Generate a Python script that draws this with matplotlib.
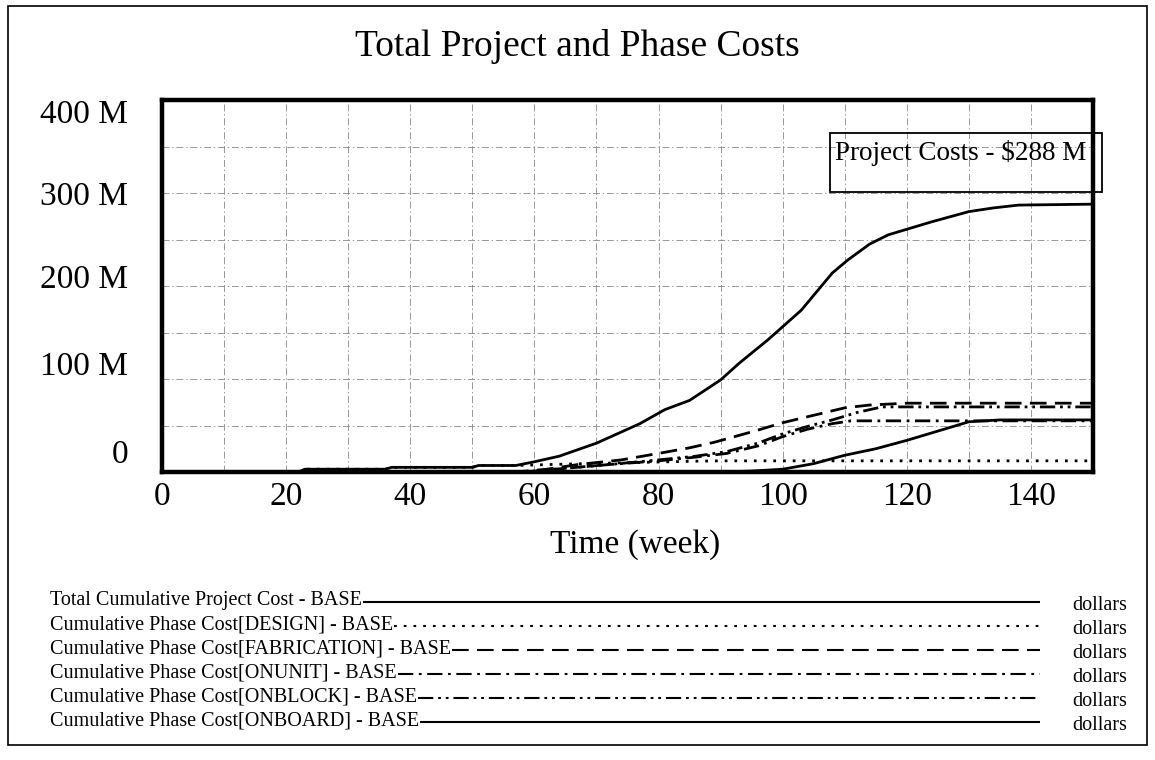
import matplotlib
matplotlib.use("Agg")
import matplotlib.pyplot as plt
from matplotlib.patches import Rectangle
from matplotlib.lines import Line2D

plt.rcParams['font.family'] = ['Liberation Serif', 'DejaVu Serif']
plt.rcParams['lines.scale_dashes'] = False

# ---------------- data (values in millions of dollars) ----------------
title = "Total Project and Phase Costs"
x_label = "Time (week)"
x_ticks = [0, 20, 40, 60, 80, 100, 120, 140]
y_tick_labels = ["400 M", "300 M", "200 M", "100 M", "0"]

weeks_total = [0, 22, 23, 36, 37, 50, 51, 57, 60, 64, 67, 70, 74, 77, 81, 85, 90, 93,
               97.6, 103, 108, 110.5, 114, 117, 124, 130, 134, 138, 150]
total_cost = [0, 0, 3, 3, 5, 5, 7, 7, 11, 17, 24, 31, 43, 52, 67, 77, 99, 117,
              142, 174, 214, 228, 245, 255, 269, 280, 284, 287, 288]

weeks_design = [0, 22, 23, 36, 37, 50, 51, 57, 65, 75, 85, 90, 150]
design_cost = [0, 0, 3, 3, 5, 5, 7, 7, 8.5, 10, 11.5, 12, 12]

weeks_fab = [0, 57, 62, 67, 74, 80, 85, 89, 96, 100, 105, 110, 114, 120, 150]
fab_cost = [0, 0, 3, 8, 13, 20, 26, 32, 45, 53, 61, 69, 72, 74, 74]

weeks_onunit = [0, 58, 65, 72, 80, 86, 91, 96, 100, 104, 108, 111, 150]
onunit_cost = [0, 0, 4, 8, 12, 16, 20, 28, 38, 46, 52, 55, 55]

weeks_onblock = [0, 58, 65, 72, 80, 86, 91, 96, 100, 104, 108, 112, 116, 150]
onblock_cost = [0, 0, 4, 8, 13, 17, 22, 31, 41, 49, 56, 64, 70, 70]

weeks_onboard = [0, 90, 95, 100, 105, 110, 115, 120, 125, 130, 135, 150]
onboard_cost = [0, 0, 1, 3, 9, 18, 25, 34, 44, 54, 56, 56]

legend_labels = ["Total Cumulative Project Cost - BASE",
                 "Cumulative Phase Cost[DESIGN] - BASE",
                 "Cumulative Phase Cost[FABRICATION] - BASE",
                 "Cumulative Phase Cost[ONUNIT] - BASE",
                 "Cumulative Phase Cost[ONBLOCK] - BASE",
                 "Cumulative Phase Cost[ONBOARD] - BASE"]
unit_label = "dollars"
annotation = "Project Costs - $288 M"

# ---------------- styles ----------------
W, H = 1155, 760
styles = [(0, ()), (0, (2, 5)), (0, (12, 6)), (0, (11, 4, 2, 4)),
          (0, (11, 3.5, 2, 3.5, 2, 3.5)), (0, ())]

fig = plt.figure(figsize=(W / 100, H / 100), dpi=100)
fig.patch.set_facecolor('white')

def fx(px):
    return px / W

def fy(py):
    return 1 - py / H

# outer frame
fig.patches.append(Rectangle((fx(8), fy(745)), fx(1147) - fx(8), fy(6) - fy(745),
                             transform=fig.transFigure, fill=False, lw=1.2,
                             edgecolor='black'))

ax = fig.add_axes([fx(162), fy(472), fx(1093) - fx(162), fy(100) - fy(472)])
ax.set_xlim(0, 150)
ax.set_ylim(0, 400)
for s in ax.spines.values():
    s.set_linewidth(3.2)
ax.set_xticks([])
ax.set_yticks([])
# grid
for gx in range(10, 150, 10):
    ax.axvline(gx, color='#888888', lw=0.6, ls=(0, (5, 2, 1, 2)), zorder=0)
for gy in range(50, 400, 50):
    ax.axhline(gy, color='#888888', lw=0.6, ls=(0, (5, 2, 1, 2)), zorder=0)

series = [(weeks_total, total_cost), (weeks_design, design_cost),
          (weeks_fab, fab_cost), (weeks_onunit, onunit_cost),
          (weeks_onblock, onblock_cost), (weeks_onboard, onboard_cost)]
for (wx, vy), ls in zip(series, styles):
    ax.plot(wx, vy, color='black', lw=2.0, ls=ls, clip_on=False, zorder=3)

# tick labels
for t in x_ticks:
    ax.text(t, -(497 - 472) / 372, str(t), transform=ax.get_xaxis_transform(),
            ha='center', va='center', fontsize=24)
ylab_pos = [115, 197, 280, 367, 455]
for lab, py in zip(y_tick_labels, ylab_pos):
    fig.text(fx(128), fy(py), lab, ha='right', va='center', fontsize=24)

fig.text(fx(635), fy(545), x_label, ha='center', va='center', fontsize=24)
fig.text(fx(577), fy(47), title, ha='center', va='center', fontsize=27)

# annotation box
fig.patches.append(Rectangle((fx(830), fy(192)), fx(1102) - fx(830), fy(133) - fy(192),
                             transform=fig.transFigure, fill=False,
                             lw=1.3, edgecolor='black', zorder=5))
fig.text(fx(835), fy(153), annotation, ha='left', va='center', fontsize=19.5, zorder=6)

# legend
row_y = [601, 625, 649, 673, 697, 721]
fig.canvas.draw()
renderer = fig.canvas.get_renderer()
for i, (lab, ls) in enumerate(zip(legend_labels, styles)):
    t = fig.text(fx(50), fy(row_y[i]), lab, ha='left', va='center', fontsize=14.5)
    bb = t.get_window_extent(renderer)
    x0 = bb.x1 / W + 0.001
    fig.lines.append(Line2D([x0, fx(1040)], [fy(row_y[i] + 1), fy(row_y[i] + 1)],
                            transform=fig.transFigure, color='black', lw=1.5, ls=ls))
    fig.text(fx(1072), fy(row_y[i] + 4), unit_label, ha='left', va='center',
             fontsize=14.5)

fig.savefig("out.png", dpi=100)
